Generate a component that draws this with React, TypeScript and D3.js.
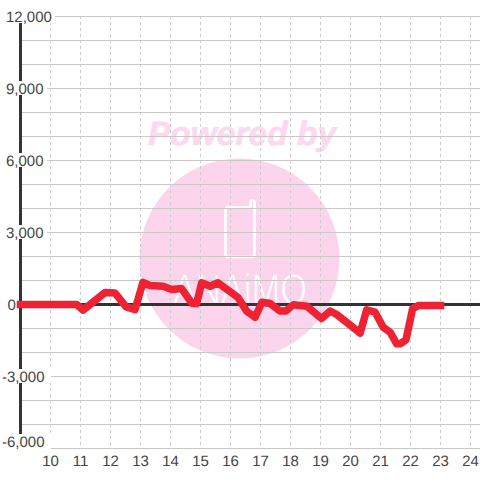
import React from "react";
import * as d3 from "d3";

const hours = [9,10.87,11.09,11.82,12.15,12.52,12.82,13.08,13.32,13.75,14.04,14.37,14.71,14.87,15.04,15.32,15.58,16.25,16.54,16.82,17.05,17.32,17.65,17.85,18.09,18.55,19.04,19.32,19.54,19.87,20.32,20.54,20.82,21.09,21.32,21.54,21.65,21.85,22.07,22.26,23];
const values = [0,0,-230,500,480,-100,-210,920,790,760,625,665,55,40,905,760,905,290,-280,-530,95,40,-270,-270,-10,-75,-585,-270,-415,-740,-1195,-220,-320,-945,-1155,-1640,-1640,-1470,-180,-40,-40];
const xTicks = [10,11,12,13,14,15,16,17,18,19,20,21,22,23,24];
const yMajor = [12000,9000,6000,3000,0,-3000,-6000];
const yGrid = d3.range(-6000, 12001, 1000);

const x = d3.scaleLinear().domain([9, 24]).range([20.5, 470.5]);
const y = d3.scaleLinear().domain([-6000, 12000]).range([448.5, 16.5]);
const FONT = "'Liberation Sans', Arial, sans-serif";
const fmt = (v: number) => d3.format(",")(v).replace("\u2212", "-");

export default function App() {
  const line = d3.line<number>().x((_, i) => x(hours[i])).y((d) => y(d)).curve(d3.curveLinear);
  return (
    <svg width={480} height={480} style={{ position: "absolute", left: 0, top: 0, background: "#fff" }} textRendering="geometricPrecision">
      <circle cx={239.5} cy={258.5} r={100} fill="#fcd5ec" />
      <text x={242} y={145} textAnchor="middle" fontFamily={FONT} fontSize={33.5} fontWeight="bold" fontStyle="italic" fill="#fcd9ee" stroke="#fcd9ee" strokeWidth={0.7}>Powered by</text>
      <path d="M250.5 207.5H228Q225.5 207.5 225.5 210V254.5Q225.5 257 228 257H252Q254.5 257 254.5 254.5V202.5Q254.5 200.5 252.5 200.5Q250.5 200.5 250.5 202.5V207.5" fill="none" stroke="#fff" strokeWidth={2.6} />
      <text x={240} y={304} textAnchor="middle" fontFamily={FONT} fontSize={43} fill="#fff" stroke="#fcd5ec" strokeWidth={0.9} textLength={134} lengthAdjust="spacingAndGlyphs">ANAiMO</text>
      {xTicks.map((t) => (
        <line key={t} x1={x(t)} x2={x(t)} y1={16} y2={446} stroke="#cccccc" strokeDasharray="3,3" />
      ))}
      {yGrid.map((t) => (
        <line key={t} x1={20} x2={480} y1={y(t)} y2={y(t)} stroke="#c8c8c8" strokeWidth={1} />
      ))}
      <line x1={20.5} x2={20.5} y1={16} y2={448} stroke="#333" strokeWidth={3} />
      <line x1={20} x2={480} y1={y(0)} y2={y(0)} stroke="#333" strokeWidth={3} />
      {yMajor.map((t) => {
        const s = fmt(t);
        const w = s.length * 8;
        const cy = t === -6000 ? 441 : y(t) - 0.5;
        const tx = t < 0 ? 2 : t === 0 ? 7.5 : 6;
        return (
          <g key={t}>
            {t !== 0 && <rect x={tx - 1} y={cy - 7} width={w + 2} height={t === -6000 ? 16 : 14} fill="#fff" />}
            <text x={tx} y={cy + 5.5} fontFamily={FONT} fontSize={15} fill="#444">{s}</text>
          </g>
        );
      })}
      {xTicks.map((t) => (
        <text key={t} x={x(t)} y={466} textAnchor="middle" fontFamily={FONT} fontSize={15} fill="#444">{t}</text>
      ))}
      <path d={line(values) ?? ""} fill="none" stroke="#ee2233" strokeWidth={7.5} strokeLinecap="square" strokeLinejoin="round" />
    </svg>
  );
}
